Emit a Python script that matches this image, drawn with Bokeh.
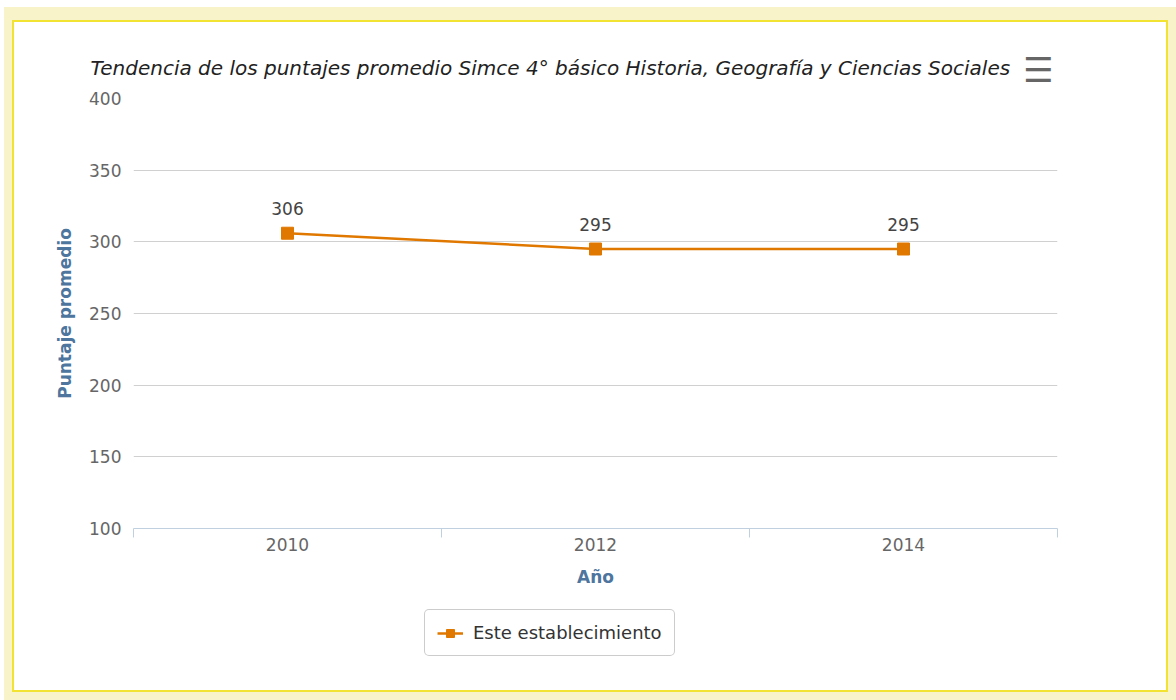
from bokeh.plotting import figure
from bokeh.models import (Range1d, FixedTicker, ColumnDataSource, LabelSet, Title,
                          Legend, LegendItem)
from bokeh.core.properties import value
from bokeh.layouts import column
from bokeh.embed import file_html
from bokeh.resources import INLINE

years = ["2010", "2012", "2014"]
scores = [306, 295, 295]
y_ticks = [100, 150, 200, 250, 300, 350, 400]
title_text = "Tendencia de los puntajes promedio Simce 4° básico Historia, Geografía y Ciencias Sociales"
series_name = "Este establecimiento"

FONT = "DejaVu Sans"
ORANGE = "#e07800"

xpos = [i + 0.5 for i in range(len(years))]
src = ColumnDataSource(dict(x=xpos, y=scores, lbl=[str(v) for v in scores]))

p = figure(width=1152, height=578, output_backend="svg", toolbar_location=None,
           x_range=Range1d(0, len(years)), y_range=Range1d(y_ticks[0], y_ticks[-1]),
           min_border_left=119, min_border_right=109, min_border_top=76, min_border_bottom=72,
           background_fill_color="white", border_fill_color="white")
p.outline_line_color = None

p.title.text = title_text
p.title.text_font = FONT
p.title.text_font_style = "italic"
p.title.text_font_size = "20px"
p.title.text_color = "#222222"
p.title.align = "left"
p.title.offset = -43
p.title.standoff = -2

# export-menu icon, drawn as a title glyph in the header row
menu = Title(text="☰\n ", align="right", offset=4, text_font="DejaVu Sans",
             text_font_size="34px", text_font_style="bold", text_color="#666666",
             standoff=-62)
p.add_layout(menu, "above")

# y axis
p.yaxis.ticker = FixedTicker(ticks=y_ticks)
p.yaxis.axis_line_color = None
p.yaxis.major_tick_line_color = None
p.yaxis.major_tick_out = 0
p.yaxis.minor_tick_line_color = None
p.yaxis.major_label_text_font = FONT
p.yaxis.major_label_text_font_size = "17px"
p.yaxis.major_label_text_color = "#666666"
p.yaxis.major_label_standoff = 12
p.yaxis.axis_label = "Puntaje promedio"
p.yaxis.axis_label_text_font = FONT
p.yaxis.axis_label_text_font_style = "bold"
p.yaxis.axis_label_text_font_size = "17px"
p.yaxis.axis_label_text_color = "#4d759e"
p.yaxis.axis_label_standoff = 11
p.ygrid.grid_line_color = "#d0d0d0"
p.ygrid.ticker = FixedTicker(ticks=y_ticks)
p.xgrid.grid_line_color = None

# x axis
p.xaxis.ticker = FixedTicker(ticks=xpos, minor_ticks=list(range(len(years) + 1)))
p.xaxis.major_label_overrides = {x: y for x, y in zip(xpos, years)}
p.xaxis.axis_line_color = "#c0d0e0"
p.xaxis.major_tick_line_color = None
p.xaxis.major_tick_out = 0
p.xaxis.minor_tick_line_color = "#c0d0e0"
p.xaxis.minor_tick_out = 9
p.xaxis.minor_tick_in = 0
p.xaxis.major_label_text_font = FONT
p.xaxis.major_label_text_font_size = "17px"
p.xaxis.major_label_text_color = "#666666"
p.xaxis.major_label_standoff = 0
p.xaxis.axis_label = "Año"
p.xaxis.axis_label_text_font = FONT
p.xaxis.axis_label_text_font_style = "bold"
p.xaxis.axis_label_text_font_size = "17px"
p.xaxis.axis_label_text_color = "#4d759e"
p.xaxis.axis_label_standoff = 13

p.line("x", "y", source=src, line_color=ORANGE, line_width=2.5)
p.scatter("x", "y", source=src, marker="square", size=12,
          fill_color=ORANGE, line_color=ORANGE)

labels = LabelSet(x="x", y="y", text="lbl", source=src, text_align="center",
                  text_baseline="bottom", y_offset=18, text_font=value(FONT),
                  text_font_size=value("17px"), text_color=value("#444444"))
p.add_layout(labels)

# legend strip (same series, drawn out of view so only the legend shows)
p2 = figure(width=1152, height=90, output_backend="svg", toolbar_location=None,
            x_range=Range1d(0, len(years)), y_range=Range1d(0, 1),
            min_border=0, background_fill_color="white", border_fill_color="white")
p2.outline_line_color = None
p2.axis.visible = False
p2.grid.visible = False
ln2 = p2.line("x", "y", source=src, line_color=ORANGE, line_width=2.5)
sc2 = p2.scatter("x", "y", source=src, marker="square", size=12,
                 fill_color=ORANGE, line_color=ORANGE)
legend = Legend(items=[LegendItem(label=series_name, renderers=[ln2, sc2])],
                location=(291, 34), orientation="horizontal",
                label_text_font=FONT, label_text_font_size="18px",
                label_text_color="#333333", glyph_width=26,
                border_line_color="#999999", border_line_width=1,
                padding=12, margin=0, spacing=6, label_standoff=10)
try:
    legend.border_radius = 5
except Exception:
    pass
p2.add_layout(legend)

inner = column(p, p2, styles={"border": "2px solid #f2e232", "background-color": "white"})
layout = column(inner, styles={"background-color": "#f8f3c8",
                               "margin": "7px 0px 0px 4px",
                               "padding": "13px 8px 8px 8px"})

open("out.html", "w").write(file_html(layout, INLINE))
